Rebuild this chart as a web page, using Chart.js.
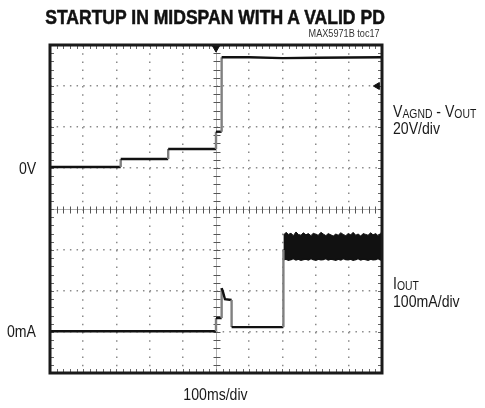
<!DOCTYPE html>
<html>
<head>
<meta charset="utf-8">
<script src="https://cdn.jsdelivr.net/npm/chart.js@4.4.1/dist/chart.umd.min.js"></script>
<style>
  body { margin: 0; width: 485px; height: 408px; background: #fff; position: relative; overflow: hidden;
         font-family: "Liberation Sans", Arial, sans-serif; color: #1a1a1a; }
  #c { position: absolute; left: 0; top: 0; }
  .lbl { position: absolute; font-size: 17px; line-height: 17px; white-space: nowrap;
         transform: scaleX(0.83); transform-origin: left top; }
  .mid { transform-origin: center top; }
  .s { font-size: 12.5px; vertical-align: -1px; }
  #title { left: 0; width: 430px; top: 7px; text-align: center; font-size: 19.5px; line-height: 20px;
           font-weight: bold; color: #111; transform: scaleX(0.9); transform-origin: center top;
           -webkit-text-stroke: 0.5px #111; }
  #toc { right: 105px; top: 28px; font-size: 11px; line-height: 11px; color: #333; transform-origin: right top; }
</style>
</head>
<body>
<canvas id="c" width="485" height="408"></canvas>
<div class="lbl" id="title">STARTUP IN MIDSPAN WITH A VALID PD</div>
<div class="lbl" id="toc">MAX5971B toc17</div>
<div class="lbl" style="left:19px;top:160px">0V</div>
<div class="lbl" style="left:7px;top:323px">0mA</div>
<div class="lbl mid" style="left:0;width:431px;text-align:center;top:386px">100ms/div</div>
<div class="lbl" style="left:393px;top:103px">V<span class="s">AGND</span> - V<span class="s">OUT</span></div>
<div class="lbl" style="left:393px;top:120px">20V/div</div>
<div class="lbl" style="left:393px;top:275px">I<span class="s">OUT</span></div>
<div class="lbl" style="left:393px;top:293px">100mA/div</div>
<script>
// time in ms (100ms/div), voltage in V (20V/div), current in mA (100mA/div)
const timeV = [0, 213, 213, 356, 356, 500, 500, 517, 517, 600, 700, 800, 900, 1000];
const voltV = [0.5, 0.5, 4.4, 4.4, 9.3, 9.3, 17.7, 17.7, 54.0, 54.0, 53.6, 53.8, 53.9, 54.0];

const timeI = [0, 500, 500, 517, 517, 521, 527, 547, 547, 703, 703];
const currI = [2, 2, 34, 34, 107, 98, 80, 78, 12, 12, 200];

// noisy load current band after the switch turns on
const bandTime = [703, 711, 718, 726, 733, 741, 748, 756, 763, 771, 778, 786, 793, 801, 808, 816, 823, 831, 838, 846, 853,
                  861, 868, 876, 883, 891, 898, 906, 913, 921, 928, 936, 943, 951, 958, 966, 973, 981, 988, 996, 1000];
const bandHigh = [236, 243, 238, 241, 235, 244, 238, 236, 242, 237, 240, 235, 241, 238, 236, 243, 239, 235, 240, 237, 234,
                  239, 236, 242, 238, 235, 240, 237, 243, 236, 239, 234, 240, 238, 236, 242, 237, 240, 235, 241, 238];
const bandLow  = [176, 178, 175, 177, 179, 176, 178, 175, 177, 178, 176, 179, 177, 175, 178, 176, 177, 179, 176, 178, 177,
                  175, 178, 176, 179, 177, 176, 178, 175, 177, 179, 176, 178, 177, 175, 178, 176, 177, 179, 176, 177];

// scope markers: trigger (top) and channel reference (right)
const trigMark = [{x: 500, y: 58.5}];
const refMark = [{x: 986, y: 40}];

const pts = (xs, ys) => xs.map((t, i) => ({x: t, y: ys[i]}));
const edgeColor = ctx => ctx.p0.parsed.x === ctx.p1.parsed.x ? '#808080' : '#111';

const scopeFrame = {
  id: 'scopeFrame',
  beforeDatasetsDraw(chart) {
    const {ctx, chartArea: a, scales: {x, y}} = chart;
    const cx = Math.round(x.getPixelForValue(500)) + 0.5;
    const cy = Math.round(y.getPixelForValue(-20)) + 0.5;
    ctx.save();
    ctx.lineWidth = 1;
    ctx.strokeStyle = '#b0b0b0';
    ctx.beginPath();
    ctx.moveTo(cx, a.top); ctx.lineTo(cx, a.bottom);
    ctx.moveTo(a.left, cy); ctx.lineTo(a.right, cy);
    ctx.stroke();
    ctx.strokeStyle = '#555';
    ctx.beginPath();
    for (let v = -100; v <= 60; v += 4) {
      const py = Math.round(y.getPixelForValue(v)) + 0.5;
      ctx.moveTo(cx - 3, py); ctx.lineTo(cx + 4, py);
    }
    for (let t = 0; t <= 1000; t += 20) {
      const px = Math.round(x.getPixelForValue(t)) + 0.5;
      ctx.moveTo(px, cy - 3); ctx.lineTo(px, cy + 4);
    }
    ctx.stroke();
    // minor ticks along the inside of the frame
    ctx.strokeStyle = '#666';
    ctx.beginPath();
    for (let t = 0; t <= 1000; t += 20) {
      const px = Math.round(x.getPixelForValue(t)) + 0.5;
      ctx.moveTo(px, a.top); ctx.lineTo(px, a.top + 4);
      ctx.moveTo(px, a.bottom); ctx.lineTo(px, a.bottom - 4);
    }
    for (let v = -100; v <= 60; v += 4) {
      const py = Math.round(y.getPixelForValue(v)) + 0.5;
      ctx.moveTo(a.left, py); ctx.lineTo(a.left + 4, py);
      ctx.moveTo(a.right, py); ctx.lineTo(a.right - 4, py);
    }
    ctx.stroke();
    ctx.restore();
  },
  afterDraw(chart) {
    const {ctx, chartArea: a} = chart;
    ctx.save();
    ctx.strokeStyle = '#1a1a1a';
    ctx.lineWidth = 3;
    ctx.strokeRect(a.left, a.top, a.right - a.left, a.bottom - a.top);
    ctx.restore();
  }
};

const gridColor = ctx => {
  const v = ctx.tick.value;
  return (v === 0 || v === 1000 || v === 500) ? 'rgba(0,0,0,0)' : '#8a8a8a';
};
const gridColorY = ctx => {
  const v = ctx.tick.value;
  return (v === -100 || v === 60 || v === -20) ? 'rgba(0,0,0,0)' : '#8a8a8a';
};

new Chart(document.getElementById('c'), {
  type: 'line',
  data: {
    datasets: [
      {data: pts(timeV, voltV), yAxisID: 'y', borderWidth: 2.4, pointRadius: 0,
       borderColor: '#111', segment: {borderColor: edgeColor}},
      {data: pts(timeI, currI), yAxisID: 'y2', borderWidth: 2.4, pointRadius: 0,
       borderColor: '#111', segment: {borderColor: edgeColor}},
      {data: pts(bandTime, bandHigh), yAxisID: 'y2', borderWidth: 1, pointRadius: 0,
       borderColor: '#111', fill: false},
      {data: pts(bandTime, bandLow), yAxisID: 'y2', borderWidth: 1.5, pointRadius: 0,
       borderColor: '#111', backgroundColor: '#111', fill: '-1'},
      {data: trigMark, yAxisID: 'y', showLine: false, pointStyle: 'triangle', pointRotation: 180,
       pointRadius: 4, backgroundColor: '#111', borderColor: '#111', clip: false},
      {data: refMark, yAxisID: 'y', showLine: false, pointStyle: 'triangle', pointRotation: 270,
       pointRadius: 4, backgroundColor: '#111', borderColor: '#111', clip: false}
    ]
  },
  options: {
    responsive: false,
    devicePixelRatio: 1,
    animation: false,
    layout: {padding: {left: 50, top: 45, right: 103, bottom: 35}},
    plugins: {legend: {display: false}, tooltip: {enabled: false}},
    elements: {line: {tension: 0}},
    scales: {
      x: {type: 'linear', min: 0, max: 1000,
          ticks: {display: false, stepSize: 100},
          grid: {color: gridColor, lineWidth: 1.5, drawTicks: false},
          border: {display: false, dash: [1.5, 6.7]}},
      y: {type: 'linear', min: -100, max: 60,
          ticks: {display: false, stepSize: 20},
          grid: {color: gridColorY, lineWidth: 1.5, drawTicks: false},
          border: {display: false, dash: [1.5, 5.14]}},
      y2: {type: 'linear', min: -100, max: 700, display: false}
    }
  },
  plugins: [scopeFrame]
});
</script>
</body>
</html>
